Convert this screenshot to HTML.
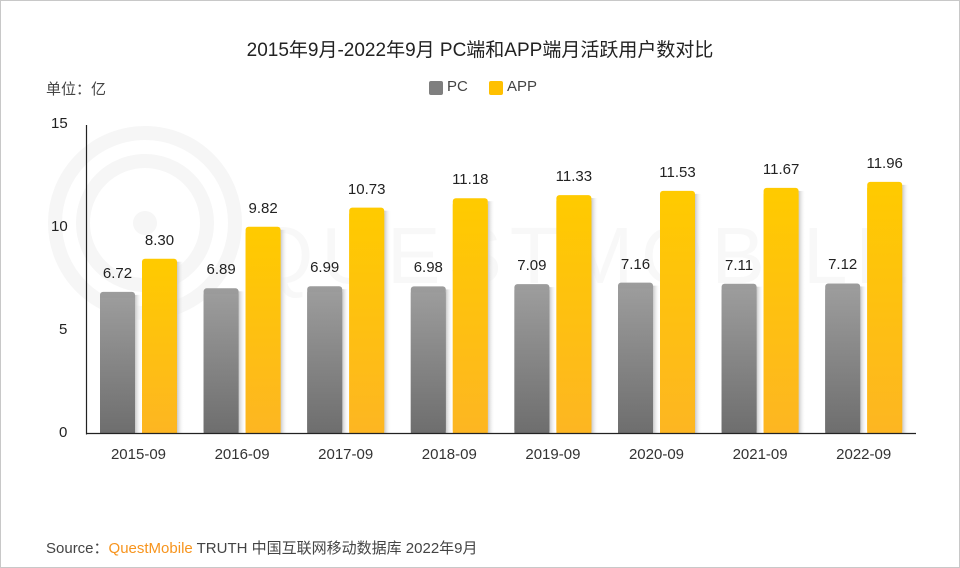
<!DOCTYPE html>
<html><head><meta charset="utf-8"><style>
body{margin:0;background:#fff}
#c{position:relative;width:958px;height:566px;border:1px solid #c8c8c8;overflow:hidden;font-family:"Liberation Sans","Noto Sans CJK SC",sans-serif;background:#fff}
.t{position:absolute;white-space:nowrap}
</style></head><body><div id="c">
<svg width="958" height="566" style="position:absolute;left:0;top:0">
<defs>
<linearGradient id="g1" x1="0" y1="0" x2="0" y2="1"><stop offset="0" stop-color="#9c9c9c"/><stop offset="1" stop-color="#6e6e6e"/></linearGradient>
<linearGradient id="g2" x1="0" y1="0" x2="0" y2="1"><stop offset="0" stop-color="#ffca00"/><stop offset="1" stop-color="#fdb622"/></linearGradient>
<linearGradient id="sh" x1="0" y1="0" x2="1" y2="0"><stop offset="0" stop-color="#c8c8c8"/><stop offset="1" stop-color="#fff" stop-opacity="0"/></linearGradient>
</defs>
<g fill="none" stroke="#f6f6f6" stroke-width="14">
<circle cx="144" cy="222" r="90"/><circle cx="144" cy="222" r="62"/>
</g>
<circle cx="144" cy="222" r="12" fill="#f6f6f6"/>
<text x="250" y="282" font-size="80" fill="#f8f8f8" font-family="Liberation Sans" letter-spacing="8">QUESTMOBILE</text>
<g id="bars"></g>
<line x1="85.5" y1="124" x2="85.5" y2="433.5" stroke="#222" stroke-width="1.2"/>
<line x1="85" y1="432.5" x2="915" y2="432.5" stroke="#222" stroke-width="1.2"/>
</svg>
<div class="t" style="left:0;width:958px;top:34px;text-align:center;font-size:19px;color:#222">2015年9月-2022年9月 PC端和APP端月活跃用户数对比</div>
<div class="t" style="left:45px;top:77px;font-size:15px;color:#444">单位：亿</div>
<div class="t" style="left:428px;top:80px;width:14px;height:14px;background:#7f7f7f;border-radius:2px"></div>
<div class="t" style="left:446px;top:77px;font-size:15px;color:#444">PC</div>
<div class="t" style="left:488px;top:80px;width:14px;height:14px;background:#ffc000;border-radius:2px"></div>
<div class="t" style="left:506px;top:77px;font-size:15px;color:#444">APP</div>
<div class="t" style="left:50px;top:114px;font-size:15px;color:#222">15</div>
<div class="t" style="left:50px;top:217px;font-size:15px;color:#222">10</div>
<div class="t" style="left:58px;top:320px;font-size:15px;color:#222">5</div>
<div class="t" style="left:58px;top:423px;font-size:15px;color:#222">0</div>
<div id="lbl"></div>
<div class="t" style="left:45px;top:536px;font-size:15px;color:#444">Source：<span style="color:#f7941d">QuestMobile</span> TRUTH 中国互联网移动数据库 2022年9月</div>
</div>
<script>
var pc=[6.72,6.89,6.99,6.98,7.09,7.16,7.11,7.12],ap=[8.30,9.82,10.73,11.18,11.33,11.53,11.67,11.96];
var yrs=[2015,2016,2017,2018,2019,2020,2021,2022];
var g=document.getElementById('bars'),L=document.getElementById('lbl'),s='',h='';
for(var i=0;i<8;i++){
 var x=99+i*103.6,k=21;
 [[pc[i],x,'g1'],[ap[i],x+42,'g2']].forEach(function(b){
  var y=432-b[0]*k;
  s+='<rect x="'+(b[1]+35)+'" y="'+(y+3)+'" width="7" height="'+(429-y)+'" fill="url(#sh)"/>';
  s+='<rect x="'+b[1]+'" y="'+y+'" width="35" height="'+(432-y)+'" rx="3" fill="url(#'+b[2]+')"/>';
  s+='<rect x="'+b[1]+'" y="'+(y+6)+'" width="35" height="'+(426-y)+'" fill="url(#'+b[2]+')"/>';
  h+='<div class="t" style="left:'+(b[1]-12)+'px;width:59px;text-align:center;top:'+(y-27)+'px;font-size:15px;color:#222">'+b[0].toFixed(2)+'</div>';
 });
 h+='<div class="t" style="left:'+(x-12)+'px;width:101px;text-align:center;top:445px;font-size:15px;color:#333">'+yrs[i]+'-09</div>';
}
g.innerHTML=s;L.innerHTML=h;
</script>
</body></html>
